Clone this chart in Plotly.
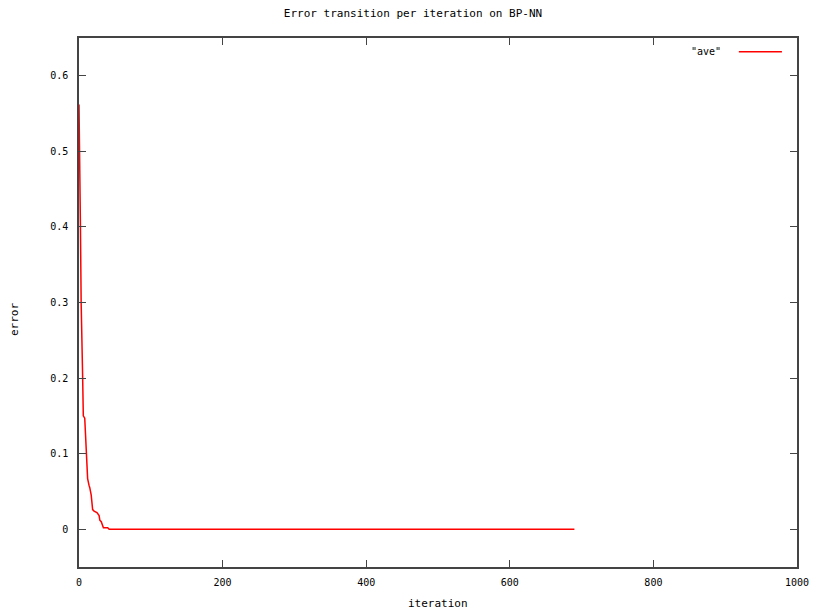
import plotly.graph_objects as go

iterations = [0, 1, 2, 3, 4, 5, 6, 8, 9, 10, 11, 12, 14, 15, 17, 18, 19, 21, 25, 28, 29, 31, 33, 34, 40, 42, 690]
errors = [0.562, 0.408, 0.40, 0.30, 0.21, 0.205, 0.15, 0.147, 0.127, 0.10, 0.09, 0.067, 0.058, 0.055,
          0.045, 0.03, 0.026, 0.024, 0.022, 0.018, 0.012, 0.010, 0.006, 0.002, 0.002, 0.0, 0.0]
x_ticks = [0, 200, 400, 600, 800, 1000]
y_ticks = [0, 0.1, 0.2, 0.3, 0.4, 0.5, 0.6]
y_tick_labels = ["0", "0.1", "0.2", "0.3", "0.4", "0.5", "0.6"]
series_name = '"ave"'

FONT = "DejaVu Sans Mono"

fig = go.Figure()
fig.add_trace(go.Scatter(x=iterations, y=errors, mode="lines", name=series_name,
                         line=dict(color="#ff0000", width=1.5), showlegend=False))

axis_common = dict(showline=True, linecolor="#444444", linewidth=1.5, mirror="ticks",
                   ticks="inside", ticklen=7, tickwidth=1.2, tickcolor="#444444",
                   showgrid=False, zeroline=False, automargin=False,
                   tickfont=dict(family=FONT, size=10, color="black"))

fig.update_layout(
    width=826, height=614,
    margin=dict(l=79, r=29, t=38, b=47),
    paper_bgcolor="white", plot_bgcolor="white",
    title=dict(text="Error transition per iteration on BP-NN", x=0.5, xanchor="center",
               y=1 - 13 / 614, yanchor="middle",
               font=dict(family=FONT, size=11, color="black")),
    xaxis=dict(range=[0, 1000], tickvals=x_ticks, ticktext=[str(v) for v in x_ticks],
               ticklabelstandoff=5, **axis_common),
    yaxis=dict(range=[-0.05, 0.65], tickvals=y_ticks, ticktext=y_tick_labels,
               ticklabelstandoff=7, **axis_common),
    showlegend=False,
)

# axis titles placed like gnuplot's
plot_w = 826 - 79 - 29
plot_h = 614 - 38 - 47
fig.add_annotation(x=(438 - 79) / plot_w, y=-(603 - 567) / plot_h, xref="paper", yref="paper",
                   text="iteration", showarrow=False, xanchor="center", yanchor="middle",
                   font=dict(family=FONT, size=11, color="black"))
fig.add_annotation(x=-(79 - 14) / plot_w, y=(567 - 320) / plot_h, xref="paper", yref="paper",
                   text="error", showarrow=False, xanchor="center", yanchor="middle", textangle=-90,
                   font=dict(family=FONT, size=11, color="black"))

# gnuplot-style key: label followed by line sample
fig.add_annotation(x=0.897, y=0.974, xref="paper", yref="paper", text=series_name,
                   showarrow=False, xanchor="right", yanchor="middle",
                   font=dict(family=FONT, size=10, color="black"))
fig.add_shape(type="line", xref="paper", yref="paper", x0=0.919, x1=0.979, y0=0.974, y1=0.974,
              line=dict(color="#ff0000", width=1.5))

fig.write_html("out.html")
